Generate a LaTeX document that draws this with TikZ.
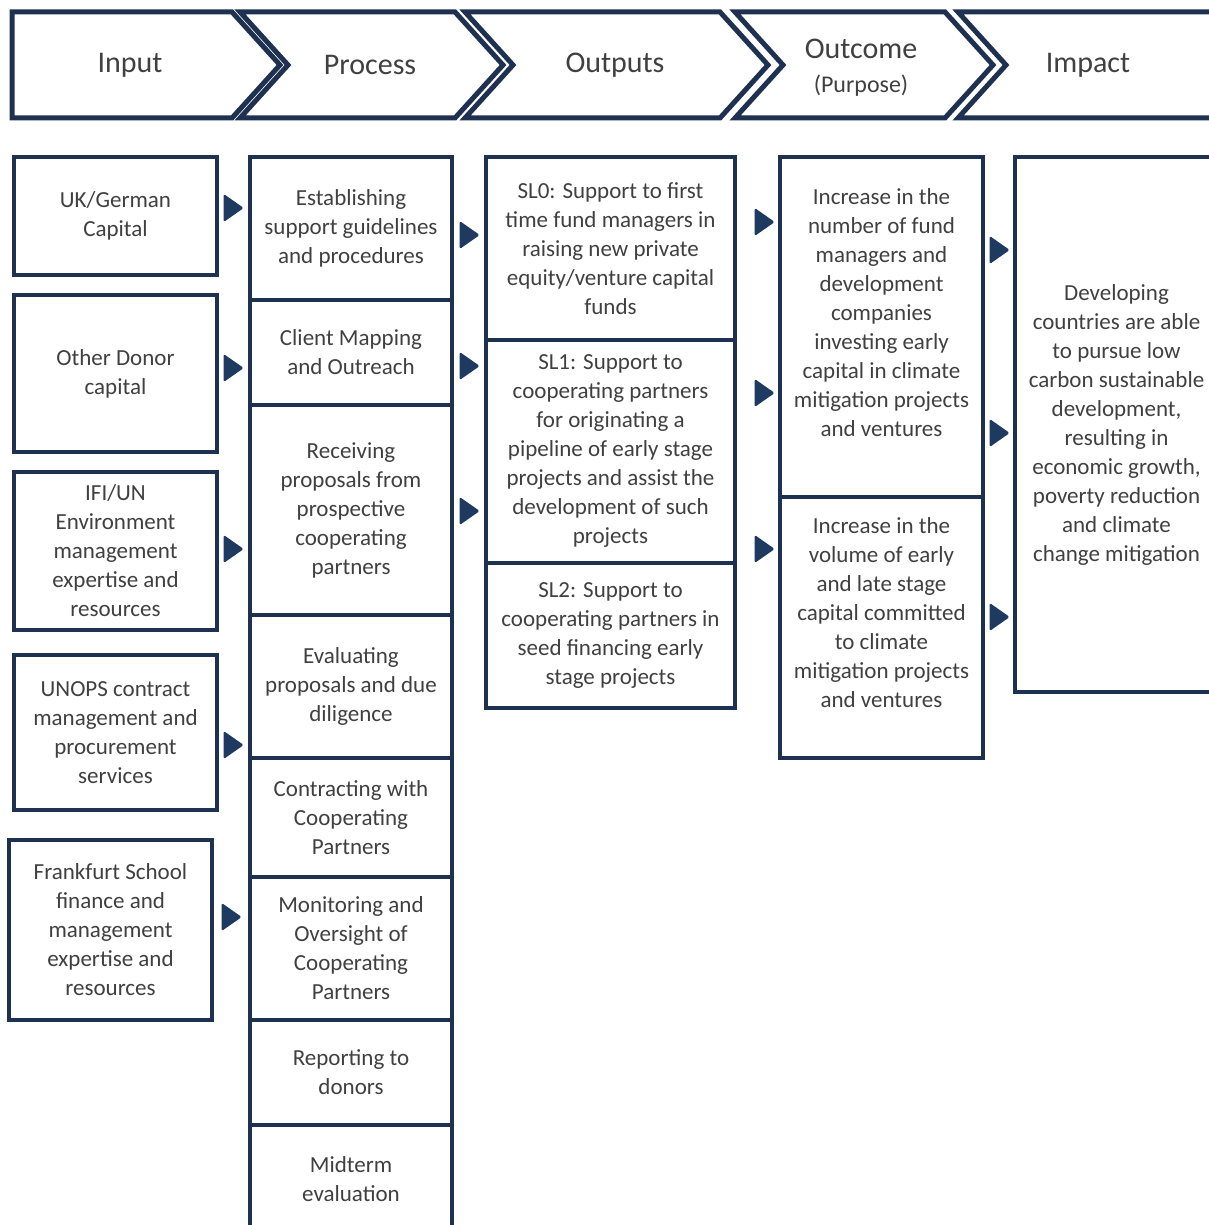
\documentclass[tikz,border=0pt]{standalone}
\usepackage{fontspec}
\setmainfont{Carlito}
\usetikzlibrary{shapes.geometric}
\definecolor{navy}{HTML}{1F3150}
\definecolor{txt}{HTML}{404040}
\definecolor{tipc}{HTML}{1F3A60}
\tikzset{
  box/.style={draw=navy, line width=4.5pt, fill=white, align=center, text=txt,
    font=\fontsize{23}{29}\selectfont, inner sep=0pt},
  plain/.style={align=center, text=txt, font=\fontsize{23}{29}\selectfont, inner sep=0pt},
  head/.style={text=txt, font=\fontsize{30}{34}\selectfont, inner sep=0pt},
  chev/.style={draw=navy, line width=5pt, line join=miter, fill=white},
  tip/.style={isosceles triangle, isosceles triangle apex angle=70,
    isosceles triangle stretches, minimum width=28pt, minimum height=20pt,
    fill=tipc, inner sep=0pt, rounded corners=1.5pt}
}
\begin{document}
\begin{tikzpicture}[x=1pt, y=-1pt]
\useasboundingbox (0,0) rectangle (1208,1225);
\fill[white] (0,0) rectangle (1208,1225);

% header chevrons
\draw[chev] (12,12) -- (232,12) -- (280,65) -- (232,118) -- (12,118) -- cycle;
\draw[chev] (240,12) -- (455,12) -- (503,65) -- (455,118) -- (240,118) -- (288,65) -- cycle;
\draw[chev] (465,12) -- (720,12) -- (768,65) -- (720,118) -- (465,118) -- (513,65) -- cycle;
\draw[chev] (735,12) -- (945,12) -- (993,65) -- (945,118) -- (735,118) -- (783,65) -- cycle;
\draw[chev] (1220,12) -- (958,12) -- (1006,65) -- (958,118) -- (1220,118);

\node[head] (hin) at (130,65) {Input};
\node[head] (hpr) at (370,65) {Process};
\node[head] (hout) at (615,65) {Outputs};
\node[head] (hoc) at (861,49) {Outcome};
\node[head, font=\fontsize{24}{28}\selectfont] (hpu) at (861,86) {(Purpose)};
\node[head] (him) at (1088,65) {Impact};

% input column
\node[box, minimum width=203pt, minimum height=118pt] (in1) at (115.5,216) {UK/German\\Capital};
\node[box, minimum width=203pt, minimum height=157pt] (in2) at (115.5,373.5) {Other Donor\\capital};
\node[box, minimum width=203pt, minimum height=158pt] (in3) at (115.5,551) {IFI/UN\\Environment\\management\\expertise and\\resources};
\node[box, minimum width=203pt, minimum height=155pt] (in4) at (115.5,732.5) {UNOPS contract\\management and\\procurement\\services};
\node[box, minimum width=203pt, minimum height=180pt] (in5) at (110.5,930) {Frankfurt School\\finance and\\management\\expertise and\\resources};

% process column
\node[box, minimum width=202pt, minimum height=143pt] (p1) at (351,228.5) {Establishing\\support guidelines\\and procedures};
\node[box, minimum width=202pt, minimum height=105pt] (p2) at (351,352.5) {Client Mapping\\and Outreach};
\node[box, minimum width=202pt, minimum height=210pt] (p3) at (351,510) {Receiving\\proposals from\\prospective\\cooperating\\partners};
\node[box, minimum width=202pt, minimum height=143pt] (p4) at (351,686.5) {Evaluating\\proposals and due\\diligence};
\node[box, minimum width=202pt, minimum height=119pt] (p5) at (351,817.5) {Contracting with\\Cooperating\\Partners};
\node[box, minimum width=202pt, minimum height=143pt] (p6) at (351,948.5) {Monitoring and\\Oversight of\\Cooperating\\Partners};
\node[box, minimum width=202pt, minimum height=105pt] (p7) at (351,1072.5) {Reporting to\\donors};
\node[box, minimum width=202pt, minimum height=108pt] (p8) at (351,1179) {Midterm\\evaluation};

% outputs column
\node[box, minimum width=249pt, minimum height=183pt] (o1) at (610.5,248.5) {SL0: Support to first\\time fund managers in\\raising new private\\equity/venture capital\\funds};
\node[box, minimum width=249pt, minimum height=223pt] (o2) at (610.5,451.5) {SL1: Support to\\cooperating partners\\for originating a\\pipeline of early stage\\projects and assist the\\development of such\\projects};
\node[box, minimum width=249pt, minimum height=145pt] (o3) at (610.5,635.5) {SL2: Support to\\cooperating partners in\\seed financing early\\stage projects};

% outcome column
\node[box, minimum width=203pt, minimum height=340pt] (oc1) at (881.5,327) {};
\node[plain] (oc1t) at (881.5,313) {Increase in the\\number of fund\\managers and\\development\\companies\\investing early\\capital in climate\\mitigation projects\\and ventures};
\node[box, minimum width=203pt, minimum height=261pt] (oc2) at (881.5,627.5) {};
\node[plain] (oc2t) at (881.5,613) {Increase in the\\volume of early\\and late stage\\capital committed\\to climate\\mitigation projects\\and ventures};

% impact column
\node[box, minimum width=203pt, minimum height=535pt] (im) at (1116.5,424.5) {Developing\\countries are able\\to pursue low\\carbon sustainable\\development,\\resulting in\\economic growth,\\poverty reduction\\and climate\\change mitigation};

% flow markers between columns
\node[tip] (a1) at (231,208) {};
\node[tip] (a2) at (231,368) {};
\node[tip] (a3) at (231,549) {};
\node[tip] (a4) at (231,745) {};
\node[tip] (a5) at (229,917) {};
\node[tip] (b1) at (467,235) {};
\node[tip] (b2) at (467,366) {};
\node[tip] (b3) at (467,511) {};
\node[tip] (c1) at (762,222) {};
\node[tip] (c2) at (762,393) {};
\node[tip] (c3) at (762,549) {};
\node[tip] (d1) at (997,250) {};
\node[tip] (d2) at (997,433) {};
\node[tip] (d3) at (997,617) {};
\end{tikzpicture}
\end{document}
